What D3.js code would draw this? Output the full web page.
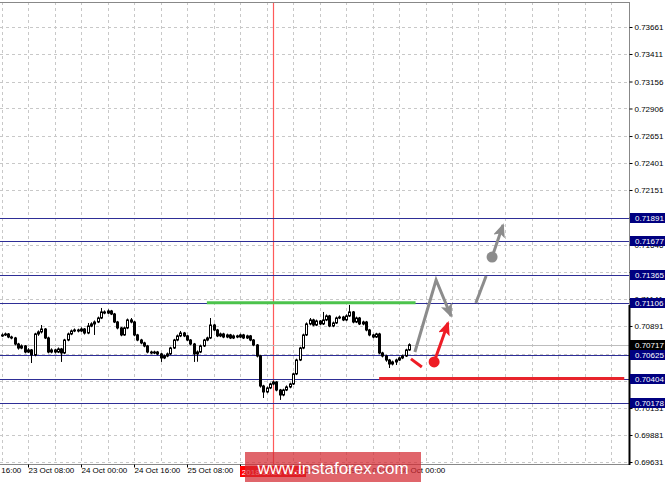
<!DOCTYPE html>
<html>
<head>
<meta charset="utf-8">
<script src="https://cdn.jsdelivr.net/npm/d3@7"></script>
<style>
body { margin: 0; background: #fff; overflow: hidden; }
svg text { font-family: "Liberation Sans", Arial, sans-serif; font-size: 8px; }
</style>
</head>
<body>
<div class="chart"></div>
<script>
// chart size
var width = 665;
var height = 482;
var plot = { left: 0, right: 629, top: 2, bottom: 464 };

// H1 candles, bar 0 = 23 Oct 00:00
var opens = [
  0.70800, 0.70808, 0.70817, 0.70789, 0.70780, 0.70724, 0.70687, 0.70706, 0.70650, 0.70669,
  0.70623, 0.70817, 0.70836, 0.70863, 0.70780, 0.70650, 0.70669, 0.70650, 0.70678, 0.70641,
  0.70761, 0.70817, 0.70845, 0.70854, 0.70845, 0.70863, 0.70826, 0.70891, 0.70910, 0.70928,
  0.70965, 0.71021, 0.71011, 0.71030, 0.71002, 0.70928, 0.70873, 0.70808, 0.70873, 0.70947,
  0.70928, 0.70808, 0.70761, 0.70734, 0.70706, 0.70650, 0.70641, 0.70650, 0.70632, 0.70595,
  0.70613, 0.70632, 0.70687, 0.70761, 0.70799, 0.70826, 0.70799, 0.70761, 0.70724, 0.70632,
  0.70650, 0.70706, 0.70761, 0.70780, 0.70900, 0.70854, 0.70799, 0.70817, 0.70789, 0.70808,
  0.70780, 0.70799, 0.70789, 0.70808, 0.70780, 0.70799, 0.70761, 0.70715, 0.70613, 0.70335,
  0.70280, 0.70317, 0.70354, 0.70372, 0.70298, 0.70252, 0.70298, 0.70326, 0.70354, 0.70447,
  0.70576, 0.70687, 0.70808, 0.70910, 0.70947, 0.70900, 0.70937, 0.70910, 0.70947, 0.70984,
  0.70891, 0.70919, 0.70965, 0.70974, 0.70947, 0.70984, 0.71021, 0.70928, 0.70965, 0.70910,
  0.70928, 0.70854, 0.70808, 0.70789, 0.70817, 0.70641, 0.70613, 0.70576, 0.70539, 0.70558,
  0.70576, 0.70595, 0.70613, 0.70669
];
var highs = [
  0.70822, 0.70830, 0.70826, 0.70801, 0.70790, 0.70735, 0.70720, 0.70715, 0.70685, 0.70678,
  0.70828, 0.70850, 0.70900, 0.70872, 0.70792, 0.70684, 0.70680, 0.70692, 0.70688, 0.70772,
  0.70830, 0.70858, 0.70868, 0.70866, 0.70878, 0.70872, 0.70919, 0.70925, 0.70942, 0.70978,
  0.71058, 0.71035, 0.71045, 0.71040, 0.71012, 0.70938, 0.70882, 0.70886, 0.70960, 0.70965,
  0.70938, 0.70818, 0.70772, 0.70745, 0.70716, 0.70662, 0.70662, 0.70660, 0.70642, 0.70626,
  0.70645, 0.70698, 0.70772, 0.70812, 0.70845, 0.70836, 0.70808, 0.70770, 0.70734, 0.70664,
  0.70718, 0.70772, 0.70792, 0.70965, 0.70912, 0.70864, 0.70830, 0.70828, 0.70820, 0.70818,
  0.70812, 0.70810, 0.70820, 0.70818, 0.70810, 0.70808, 0.70770, 0.70724, 0.70622, 0.70346,
  0.70330, 0.70366, 0.70384, 0.70380, 0.70308, 0.70310, 0.70340, 0.70366, 0.70458, 0.70588,
  0.70698, 0.70820, 0.70924, 0.70965, 0.70958, 0.70950, 0.70946, 0.71021, 0.70998, 0.70994,
  0.70932, 0.70978, 0.70988, 0.70985, 0.70998, 0.71086, 0.71030, 0.70978, 0.70975, 0.70940,
  0.70938, 0.70864, 0.70818, 0.70828, 0.70828, 0.70652, 0.70624, 0.70586, 0.70570, 0.70588,
  0.70606, 0.70625, 0.70680, 0.70730
];
var lows = [
  0.70790, 0.70798, 0.70778, 0.70768, 0.70712, 0.70672, 0.70676, 0.70638, 0.70640, 0.70548,
  0.70610, 0.70800, 0.70822, 0.70770, 0.70638, 0.70638, 0.70636, 0.70640, 0.70558, 0.70630,
  0.70750, 0.70806, 0.70834, 0.70832, 0.70836, 0.70812, 0.70815, 0.70880, 0.70808, 0.70918,
  0.70955, 0.71000, 0.71002, 0.70992, 0.70918, 0.70860, 0.70796, 0.70800, 0.70862, 0.70916,
  0.70796, 0.70750, 0.70722, 0.70694, 0.70638, 0.70630, 0.70630, 0.70620, 0.70558, 0.70584,
  0.70602, 0.70622, 0.70678, 0.70750, 0.70788, 0.70788, 0.70750, 0.70712, 0.70558, 0.70560,
  0.70640, 0.70696, 0.70750, 0.70770, 0.70842, 0.70788, 0.70788, 0.70778, 0.70778, 0.70770,
  0.70770, 0.70778, 0.70780, 0.70770, 0.70770, 0.70750, 0.70704, 0.70600, 0.70320, 0.70224,
  0.70268, 0.70306, 0.70342, 0.70286, 0.70206, 0.70240, 0.70288, 0.70314, 0.70344, 0.70436,
  0.70566, 0.70676, 0.70798, 0.70898, 0.70888, 0.70890, 0.70898, 0.70900, 0.70936, 0.70880,
  0.70880, 0.70910, 0.70955, 0.70936, 0.70936, 0.70974, 0.70916, 0.70918, 0.70900, 0.70898,
  0.70842, 0.70796, 0.70778, 0.70780, 0.70630, 0.70600, 0.70560, 0.70502, 0.70526, 0.70530,
  0.70566, 0.70584, 0.70604, 0.70660
];
var closes = [
  0.70808, 0.70817, 0.70789, 0.70780, 0.70724, 0.70687, 0.70706, 0.70650, 0.70669, 0.70623,
  0.70817, 0.70836, 0.70863, 0.70780, 0.70650, 0.70669, 0.70650, 0.70678, 0.70641, 0.70761,
  0.70817, 0.70845, 0.70854, 0.70845, 0.70863, 0.70826, 0.70891, 0.70910, 0.70928, 0.70965,
  0.71021, 0.71011, 0.71030, 0.71002, 0.70928, 0.70873, 0.70808, 0.70873, 0.70947, 0.70928,
  0.70808, 0.70761, 0.70734, 0.70706, 0.70650, 0.70641, 0.70650, 0.70632, 0.70595, 0.70613,
  0.70632, 0.70687, 0.70761, 0.70799, 0.70826, 0.70799, 0.70761, 0.70724, 0.70632, 0.70650,
  0.70706, 0.70761, 0.70780, 0.70900, 0.70854, 0.70799, 0.70817, 0.70789, 0.70808, 0.70780,
  0.70799, 0.70789, 0.70808, 0.70780, 0.70799, 0.70761, 0.70715, 0.70613, 0.70335, 0.70280,
  0.70317, 0.70354, 0.70372, 0.70298, 0.70252, 0.70298, 0.70326, 0.70354, 0.70447, 0.70576,
  0.70687, 0.70808, 0.70910, 0.70947, 0.70900, 0.70937, 0.70910, 0.70947, 0.70984, 0.70891,
  0.70919, 0.70965, 0.70974, 0.70947, 0.70984, 0.71021, 0.70928, 0.70965, 0.70910, 0.70928,
  0.70854, 0.70808, 0.70789, 0.70817, 0.70641, 0.70613, 0.70576, 0.70539, 0.70558, 0.70576,
  0.70595, 0.70613, 0.70669, 0.70717
];

// price scale ticks
var priceTicks = [0.73661, 0.73411, 0.73156, 0.72906, 0.72651, 0.72401, 0.72151, 0.71896,
  0.71646, 0.71391, 0.71141, 0.70891, 0.70636, 0.70386, 0.70131, 0.69881, 0.69631];

// time ticks (bar index) and labels
var timeTicks = [-8, 8, 24, 40, 56, 72, 88, 104, 120];
var timeLabels = ["22 Oct 16:00", "23 Oct 08:00", "24 Oct 00:00", "24 Oct 16:00", "25 Oct 08:00",
  "26 Oct 00:00", "26 Oct 16:00", "29 Oct 08:00", "30 Oct 00:00"];

// horizontal levels
var levels = [0.71891, 0.71677, 0.71365, 0.71106, 0.70625, 0.70404, 0.70178];
var currentPrice = 0.70717;

// vertical marker line
var markerBar = 82;
var markerLabel = "2018.10.26 10:00";

// drawn lines [bar, price]
var greenLine = [[62, 0.71106], [125, 0.71106]];
var redLine = [[114, 0.70404], [188, 0.70404]];
var redDash = [[123.6, 0.70586], [126.9, 0.70511]];
var redArrow = [[130.6, 0.70558], [134.8, 0.70919]];
var grayArrow1 = [[124.8, 0.70650], [131.2, 0.71317], [135.7, 0.70984]];
var grayLine2 = [[143.2, 0.71104], [146.3, 0.71354]];
var grayArrow2 = [[148.1, 0.71530], [151.4, 0.71826]];

var x = d3.scaleLinear().domain([8, 120]).range([28, 399]);
var y = d3.scaleLinear().domain([0.69631, 0.73661]).range([462, 27]);

var svg = d3.select(".chart")
  .append("svg")
  .attr("width", width)
  .attr("height", height);

var defs = svg.append("defs");
defs.append("clipPath").attr("id", "plotclip")
  .append("rect")
  .attr("x", plot.left).attr("y", plot.top)
  .attr("width", plot.right - plot.left).attr("height", plot.bottom - plot.top);

function arrowMarker(id, color) {
  defs.append("marker")
    .attr("id", id)
    .attr("markerUnits", "userSpaceOnUse")
    .attr("viewBox", "0 0 14 12")
    .attr("markerWidth", 14)
    .attr("markerHeight", 12)
    .attr("refX", 12)
    .attr("refY", 6)
    .attr("orient", "auto")
    .append("path")
    .attr("d", "M0,0 L14,6 L0,12 L3,6 z")
    .attr("fill", color);
}
arrowMarker("arrGray", "#8c8c8c");
arrowMarker("arrRed", "#ee1c25");

var g = svg.append("g").attr("clip-path", "url(#plotclip)");

// grid
var gridBars = d3.range(0, 190, 8);
g.selectAll(".vgrid")
  .data(gridBars)
  .enter()
  .append("line")
  .attr("x1", d => Math.round(x(d)) + 0.5)
  .attr("x2", d => Math.round(x(d)) + 0.5)
  .attr("y1", plot.top)
  .attr("y2", plot.bottom)
  .attr("stroke", "#c8c8c8")
  .attr("stroke-dasharray", "3,3");

g.selectAll(".hgrid")
  .data(priceTicks)
  .enter()
  .append("line")
  .attr("x1", plot.left)
  .attr("x2", plot.right)
  .attr("y1", d => Math.round(y(d)) + 0.5)
  .attr("y2", d => Math.round(y(d)) + 0.5)
  .attr("stroke", "#c8c8c8")
  .attr("stroke-dasharray", "3,3");

// marker vertical line
g.append("line")
  .attr("x1", Math.round(x(markerBar)) + 0.5)
  .attr("x2", Math.round(x(markerBar)) + 0.5)
  .attr("y1", plot.top)
  .attr("y2", plot.bottom)
  .attr("stroke", "#ff5a5a")
  .attr("stroke-width", 1.2);

// current price line
g.append("line")
  .attr("x1", plot.left).attr("x2", plot.right)
  .attr("y1", Math.round(y(currentPrice)) + 0.5)
  .attr("y2", Math.round(y(currentPrice)) + 0.5)
  .attr("stroke", "#bdbdbd");

// levels
g.selectAll(".level")
  .data(levels)
  .enter()
  .append("line")
  .attr("x1", plot.left).attr("x2", plot.right)
  .attr("y1", d => Math.round(y(d)) + 0.5)
  .attr("y2", d => Math.round(y(d)) + 0.5)
  .attr("stroke", "#2e2e96")
  .attr("stroke-width", 1.2);

var line = d3.line().x(d => x(d[0])).y(d => y(d[1]));

g.append("path").attr("d", line(greenLine)).attr("stroke", "#4cc34c").attr("stroke-width", 3).attr("fill", "none");
g.append("path").attr("d", line(redLine)).attr("stroke", "#e8242c").attr("stroke-width", 3).attr("fill", "none");

// candles
var bars = d3.range(closes.length);
var candle = g.selectAll(".candle")
  .data(bars)
  .enter()
  .append("g")
  .attr("class", "candle");

candle.append("line")
  .attr("x1", i => Math.round(x(i)) + 0.5)
  .attr("x2", i => Math.round(x(i)) + 0.5)
  .attr("y1", i => y(highs[i]))
  .attr("y2", i => y(lows[i]))
  .attr("stroke", "#000");

candle.append("rect")
  .attr("x", i => Math.round(x(i)) - 0.5)
  .attr("width", 2)
  .attr("y", i => y(Math.max(opens[i], closes[i])))
  .attr("height", i => Math.max(1, Math.abs(y(opens[i]) - y(closes[i]))))
  .attr("fill", i => closes[i] >= opens[i] ? "#fff" : "#000")
  .attr("stroke", "#000")
  .attr("stroke-width", 1);

// forecast arrows
g.append("path").attr("d", line(redDash)).attr("stroke", "#ee1c25").attr("stroke-width", 3).attr("fill", "none");
g.append("path").attr("d", line(redArrow)).attr("stroke", "#ee1c25").attr("stroke-width", 3)
  .attr("fill", "none").attr("marker-end", "url(#arrRed)");
g.append("circle").attr("cx", x(redArrow[0][0])).attr("cy", y(redArrow[0][1])).attr("r", 5.5).attr("fill", "#ee1c25");

g.append("path").attr("d", line(grayArrow1)).attr("stroke", "#8c8c8c").attr("stroke-width", 3)
  .attr("fill", "none").attr("marker-end", "url(#arrGray)");
g.append("path").attr("d", line(grayLine2)).attr("stroke", "#8c8c8c").attr("stroke-width", 3).attr("fill", "none");
g.append("path").attr("d", line(grayArrow2)).attr("stroke", "#8c8c8c").attr("stroke-width", 3)
  .attr("fill", "none").attr("marker-end", "url(#arrGray)");
g.append("circle").attr("cx", x(grayArrow2[0][0])).attr("cy", y(grayArrow2[0][1])).attr("r", 5.5).attr("fill", "#8c8c8c");

// frame
svg.append("line").attr("x1", 0).attr("x2", plot.right).attr("y1", plot.top + 0.5).attr("y2", plot.top + 0.5).attr("stroke", "#888");
svg.append("line").attr("x1", 0).attr("x2", plot.right).attr("y1", plot.bottom + 0.5).attr("y2", plot.bottom + 0.5).attr("stroke", "#888");
svg.append("line").attr("x1", plot.right + 0.5).attr("x2", plot.right + 0.5).attr("y1", plot.top).attr("y2", plot.bottom).attr("stroke", "#888");
svg.append("line").attr("x1", plot.right + 0.5).attr("x2", plot.right + 0.5).attr("y1", 305).attr("y2", plot.bottom + 1).attr("stroke", "#000").attr("stroke-width", 2);

// price axis
var yAxis = d3.axisRight(y).tickValues(priceTicks).tickSize(3).tickPadding(2).tickFormat(d3.format(".5f"));
var ya = svg.append("g").attr("transform", "translate(" + (plot.right + 0.5) + ",0)").call(yAxis);
ya.select(".domain").remove();
ya.selectAll("text").attr("fill", "#000").style("font-size", "8px").style("font-family", "Liberation Sans, Arial, sans-serif");

// time axis
var xAxis = d3.axisBottom(x).tickValues(timeTicks).tickSize(3).tickFormat((d, i) => timeLabels[i]);
var xa = svg.append("g").attr("transform", "translate(0," + (plot.bottom + 0.5) + ")").call(xAxis);
xa.select(".domain").remove();
xa.selectAll("text").attr("text-anchor", "start").attr("dy", "0.3em").attr("dx", 0)
  .attr("fill", "#000").style("font-size", "8px").style("font-family", "Liberation Sans, Arial, sans-serif");

// level labels
var tags = svg.selectAll(".tag")
  .data(levels)
  .enter()
  .append("g")
  .attr("transform", d => "translate(" + (plot.right + 1) + "," + Math.round(y(d)) + ")");
tags.append("rect").attr("x", 0).attr("y", -5).attr("width", 36).attr("height", 10).attr("fill", "#000080");
tags.append("text").attr("x", 5).attr("y", 3).attr("fill", "#fff").text(d => d3.format(".5f")(d));

var cur = svg.append("g").attr("transform", "translate(" + (plot.right + 1) + "," + Math.round(y(currentPrice)) + ")");
cur.append("rect").attr("x", 0).attr("y", -5).attr("width", 36).attr("height", 10).attr("fill", "#000");
cur.append("text").attr("x", 5).attr("y", 3).attr("fill", "#fff").text(d3.format(".5f")(currentPrice));

// marker time label
var mx = Math.round(x(markerBar));
svg.append("rect").attr("x", mx - 33).attr("y", 466).attr("width", 66).attr("height", 11).attr("fill", "#ff0000");
svg.append("text").attr("x", mx).attr("y", 474.5).attr("text-anchor", "middle").attr("fill", "#fff").text(markerLabel);

// watermark
svg.append("rect").attr("x", 245).attr("y", 452).attr("width", 176).attr("height", 30)
  .attr("fill", "#d42a32").attr("opacity", 0.72);
svg.append("text").attr("x", 333).attr("y", 474).attr("text-anchor", "middle")
  .attr("fill", "#fff").style("font-size", "17px").text("www.instaforex.com");
</script>
</body>
</html>
